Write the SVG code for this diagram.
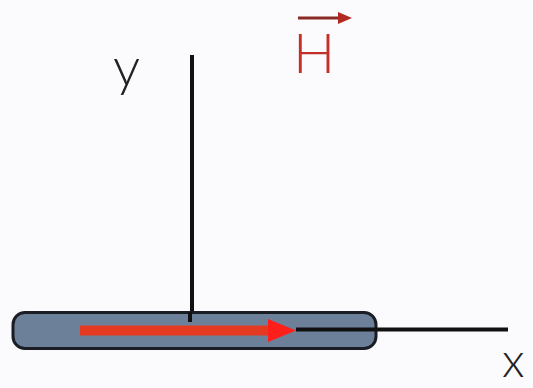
<svg xmlns="http://www.w3.org/2000/svg" width="533" height="388" viewBox="0 0 533 388">
<defs>
<style>
.lbl{font-family:"Lato","Liberation Sans",sans-serif;font-weight:300;fill:#222}
.ax{stroke:#111;stroke-width:4;fill:none}
</style>
</defs>
<rect width="533" height="388" fill="#fbfbfd"/>
<g id="connectors">
<line class="ax" x1="192" y1="55" x2="192" y2="322"/>
<line class="ax" x1="298" y1="329.5" x2="508" y2="329.5"/>
</g>
<g id="bar">
<rect x="13" y="312.5" width="363" height="36" rx="12" ry="12" fill="#6d8099" stroke="#1a1d24" stroke-width="3"/>
<line x1="80" y1="330.5" x2="272" y2="330.5" stroke="#e53a22" stroke-width="10"/>
<polygon points="268,319 296,330.5 268,342" fill="#ff1f1a"/>
<line x1="190" y1="312" x2="190" y2="322" class="ax"/>
<line x1="296" y1="329.5" x2="377" y2="329.5" class="ax"/>
</g>
<g id="label-y"><text class="lbl" x="113" y="86" font-size="54">y</text></g>
<g id="label-H">
<text x="293" y="73" font-size="56" font-family="Lato, Liberation Sans, sans-serif" font-weight="300" fill="#c3302a">H</text>
<line x1="298" y1="18" x2="342" y2="18" stroke="#8a2a24" stroke-width="3"/>
<polygon points="338,12 352,18 338,24" fill="#b02a24"/>
</g>
<g id="label-x"><text class="lbl" x="502" y="377" font-size="48">x</text></g>
</svg>
